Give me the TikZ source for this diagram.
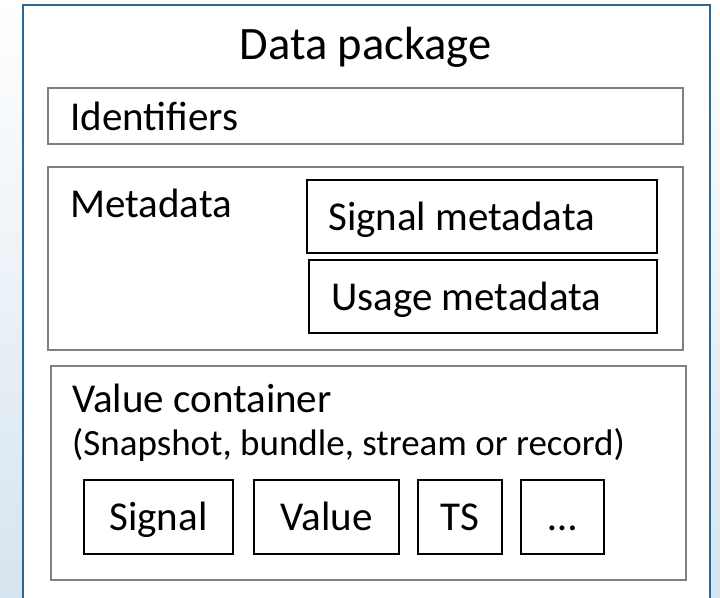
\documentclass[tikz,border=0pt]{standalone}
\usepackage{fontspec}
\setmainfont{Carlito}
\definecolor{pkgblue}{HTML}{2A6898}
\definecolor{boxgray}{HTML}{808080}
\definecolor{bgblue}{HTML}{D6E4EF}
\begin{document}
\begin{tikzpicture}[x=1pt,y=-1pt,
  box/.style={draw, outer sep=0pt, inner sep=0pt, anchor=north west, fill=white},
  graybox/.style={box, draw=boxgray, line width=2pt},
  blackbox/.style={box, draw=black, line width=2pt},
  lbl/.style={inner sep=0pt, anchor=base west, font=\fontsize{41}{49}\selectfont},
  cell/.style={blackbox, minimum height=74pt, text height=27pt, text depth=0pt, font=\fontsize{41}{49}\selectfont}]
\fill[top color=white, bottom color=bgblue] (0,0) rectangle (720,597);
\useasboundingbox (0,0) rectangle (720,597);
% outer package
\node[box, draw=pkgblue, line width=2.5pt, minimum width=687pt, minimum height=610pt] (pkg) at (23,5) {};
\node[inner sep=0pt, anchor=base, font=\fontsize{46.5}{56}\selectfont] (title) at (365.5,59) {Data package};
% identifiers
\node[graybox, minimum width=635pt, minimum height=56pt] (ident) at (48,88) {};
\node[lbl] (identlbl) at (70,130) {Identifiers};
% metadata
\node[graybox, minimum width=635pt, minimum height=183pt] (meta) at (48,167) {};
\node[lbl] (metalbl) at (70,217) {Metadata};
\node[blackbox, minimum width=350pt, minimum height=73pt] (sigmeta) at (307,180) {};
\node[lbl] (sigmetalbl) at (328,230) {Signal metadata};
\node[blackbox, minimum width=348pt, minimum height=73pt] (usemeta) at (309,260) {};
\node[lbl] (usemetalbl) at (331,310) {Usage metadata};
% value container
\node[graybox, minimum width=635pt, minimum height=214pt] (valc) at (51,366) {};
\node[lbl] (valclbl) at (72,412) {Value container};
\node[lbl, font=\fontsize{37}{44}\selectfont] (valcsub) at (72,455) {(Snapshot, bundle, stream or record)};
\node[cell, minimum width=149pt] (sig) at (84,480) {Signal};
\node[cell, minimum width=145pt] (val) at (254,480) {Value};
\node[cell, minimum width=84pt] (ts) at (418,480) {TS};
\node[cell, minimum width=83pt] (more) at (521,480) {…};
\end{tikzpicture}
\end{document}
